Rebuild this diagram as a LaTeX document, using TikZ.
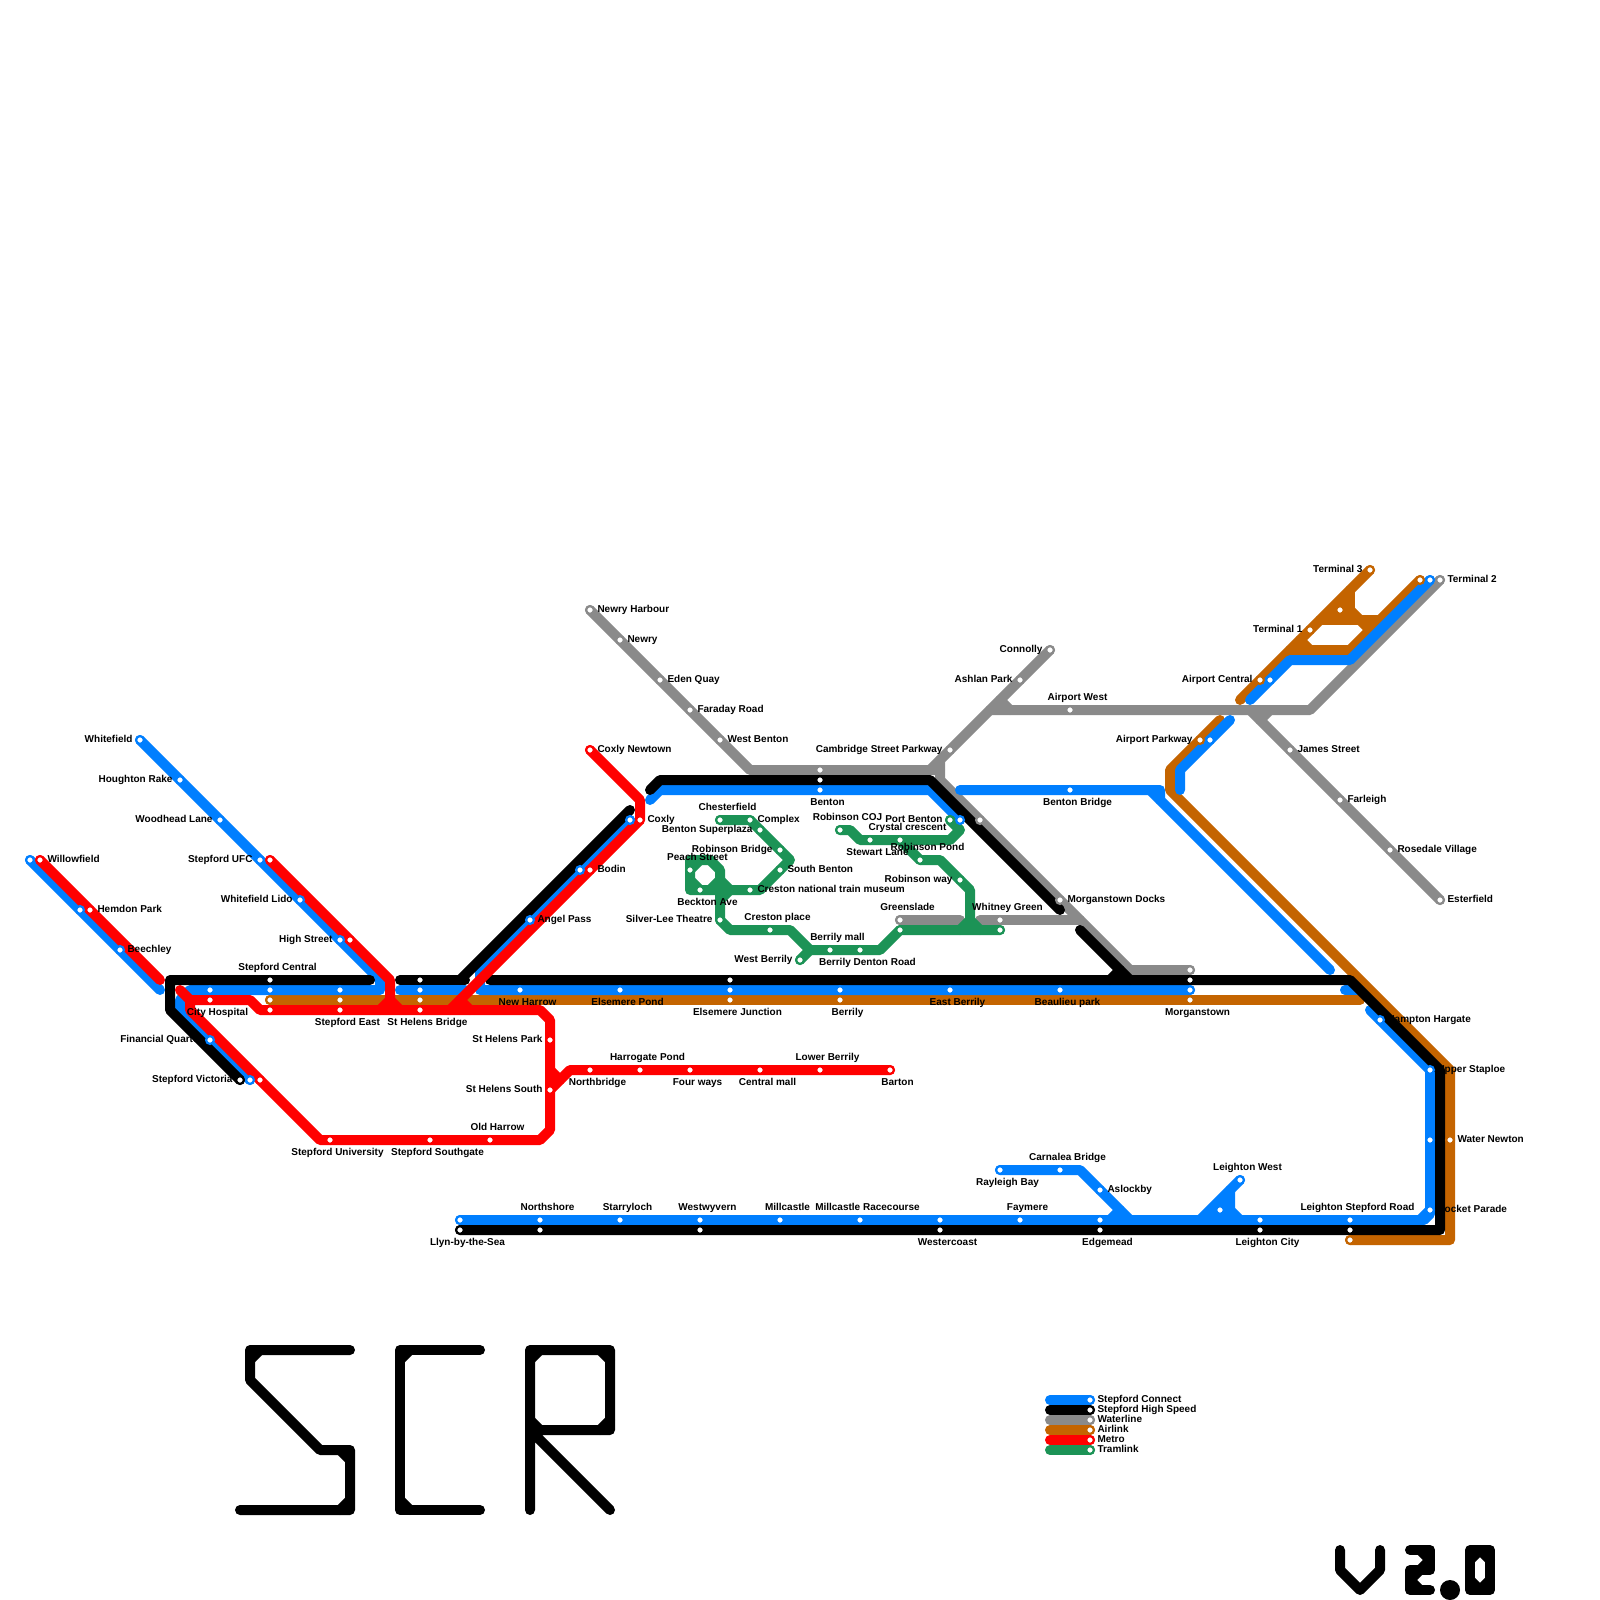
\documentclass[tikz,border=0pt]{standalone}
\usepackage{fontspec}
\setmainfont{Liberation Sans}
\definecolor{mapblue}{HTML}{007FFF}
\definecolor{mapgrey}{HTML}{8A8A8A}
\definecolor{mapbrown}{HTML}{C46400}
\definecolor{mapred}{HTML}{FF0000}
\definecolor{mapgreen}{HTML}{1C9356}
\tikzset{
  mapline/.style={line width=10pt,line cap=round,line join=round},
  lblue/.style={mapline,draw=mapblue},
  lblack/.style={mapline,draw=black},
  lgrey/.style={mapline,draw=mapgrey},
  lbrown/.style={mapline,draw=mapbrown},
  lred/.style={mapline,draw=mapred},
  lgreen/.style={mapline,draw=mapgreen},
  stn/.style={circle,fill=white,line width=2.2pt,inner sep=0pt,minimum size=7.8pt},
  lbl/.style={inner sep=0pt,outer sep=0pt,text=black,font=\bfseries\fontsize{10}{12}\selectfont},
}
\newcommand\labW[2]{\node[lbl,anchor=base east,xshift=-7.5pt,yshift=-2.5pt] (l-#1) at (#1) {#2};}
\newcommand\labE[2]{\node[lbl,anchor=base west,xshift=7.5pt,yshift=-2.5pt] (l-#1) at (#1) {#2};}
\newcommand\labT[2]{\node[lbl,anchor=base,xshift=7.5pt,yshift=10pt] (l-#1) at (#1) {#2};}
\newcommand\labB[2]{\node[lbl,anchor=base,xshift=7.5pt,yshift=-15pt] (l-#1) at (#1) {#2};}
\begin{document}
\begin{tikzpicture}[x=1pt,y=-1pt]
\useasboundingbox (0,0) rectangle (1600,1600);
\fill[white] (0,0) rectangle (1600,1600);
% ---- station positions
\foreach \n/\px/\py in {
 bWhitefield/140/740,bHoughton/180/780,bWoodhead/220/820,bUFC/260/860,bLido/300/900,bHigh/340/940,
 bWillow/30/860,bHemdon/80/910,bBeechley/120/950,bCity/210/990,bCentral/270/990,bEast/340/990,bBridge/420/990,
 bFinancial/210/1040,bVictoria/250/1080,bNewHarrow/520/990,bElsPond/620/990,bElsJ/730/990,bBerrily/840/990,
 bEastB/950/990,bBeaulieu/1060/990,bMorgan/1190/990,bCoxly/630/820,bBodin/580/870,bAngel/530/920,
 bBenton/820/790,bPort/960/820,bBentonBr/1070/790,bAirPk/1210/740,bAirC/1270/680,bT2/1430/580,
 bHampton/1380/1020,bUpper/1430/1070,bWater/1430/1140,bRocket/1430/1210,bLSR/1350/1220,bLCity/1260/1220,
 bLW/1240/1180,bLmid/1220/1210,bAslock/1100/1190,bCarn/1060/1170,bRay/1000/1170,bEdge/1100/1220,bFay/1020/1220,
 bWest/940/1220,bMR/860/1220,bMill/780/1220,bWy/700/1220,bStarry/620/1220,bNorth/540/1220,bLlyn/460/1220,
 kCentral/270/980,kBridge/420/980,kVictoria/240/1080,kBenton/820/780,kElsJ/730/980,kMorgan/1190/980,
 kLSR/1350/1230,kLCity/1260/1230,kEdge/1100/1230,kWest/940/1230,kWy/700/1230,kNorth/540/1230,kLlyn/460/1230,
 gNewryH/590/610,gNewry/620/640,gEden/660/680,gFar/690/710,gWB/720/740,gBenton/820/770,gCamb/950/750,gAsh/1020/680,
 gConn/1050/650,gAW/1070/710,gT2/1440/580,gJames/1290/750,gFarl/1340/800,gRose/1390/850,gEst/1440/900,gMid/980/820,
 gMorganD/1060/900,gMorgan/1190/970,gGreen/900/920,gWhit/1000/920,
 oCentral/270/1000,oEast/340/1000,oBridge/420/1000,oElsJ/730/1000,oBerrily/840/1000,oMorgan/1190/1000,
 oAirPk/1200/740,oAirC/1260/680,oT1/1310/630,oMid/1340/610,oT3/1370/570,oT2/1420/580,oWater/1450/1140,oLSR/1350/1240,
 rWillow/40/860,rHemdon/90/910,rUFC/270/860,rHigh/350/940,rCity/210/1000,rCentral/270/1010,rEast/340/1010,rBridge/420/1010,
 rVict/260/1080,rUni/330/1140,rSouth/430/1140,rOld/490/1140,rPark/550/1040,rHSouth/550/1090,rNorthb/590/1070,rHarro/640/1070,
 rFour/690/1070,rCentralM/760/1070,rLower/820/1070,rBarton/890/1070,rCoxNew/590/750,rCoxly/640/820,rBodin/590/870,
 nChest/720/820,nComplex/750/820,nSuper/760/830,nRBr/780/850,nSB/780/870,nCreston/750/890,nPeach/690/870,nBeck/700/890,
 nSilver/720/920,nCplace/770/930,nMall/830/950,nDenton/860/950,nWestB/800/960,nGreen/900/930,nWhit/1000/930,nRway/960/880,
 nRPond/920/860,nCryst/900/840,nStew/870/840,nCOJ/840/830,nPort/950/820,
 legA/1090/1400,legB/1090/1410,legC/1090/1420,legD/1090/1430,legE/1090/1440,legF/1090/1450%
}{\coordinate (\n) at (\px,\py);}
% ---- bends
\foreach \n/\px/\py in {
 g0/930/770,g1/750/770,g2/940/770,g3/940/760,g4/940/780,g5/1130/970,g6/960/920,g7/980/920,g8/1080/920,g9/990/710,g10/1310/710,
 g11/1000/700,g12/1010/710,g13/1250/710,g14/1260/720,g15/1270/710,
 o1/1360/1000,o2/1220/720,o3/1170/770,o4/1170/790,o5/1450/1070,o6/1450/1240,o7/1240/700,o8/1350/650,o9/1290/650,
 o10/1320/620,o11/1380/620,o12/1350/590,o13/1350/620,o14/1350/610,o15/1360/620,o16/1300/640,o17/1310/650,o18/1370/630,
 k1/370/980,k2/170/980,k3/170/1010,k4/400/980,k5/465/980,k6/630/810,k7/460/980,k8/490/980,k9/1350/980,k10/1440/1070,
 k11/1440/1230,k12/650/790,k13/660/780,k14/930/780,k15/1060/910,k16/1080/930,k17/1130/980,k18/1120/970,k19/1110/980,
 b1/380/980,b2/380/990,b3/190/990,b4/180/1000,b5/180/1010,b6/160/990,b7/400/990,b8/465/990,b9/480/970,b10/480/990,
 b11/650/800,b12/660/790,b13/930/790,b14/960/790,b15/1160/790,b16/1160/800,b17/1330/970,b18/1150/790,b19/1230/720,
 b20/1180/770,b21/1180/790,b22/1250/700,b23/1290/660,b24/1350/660,b25/1345/990,b26/1360/990,b27/1370/1010,b28/1430/1214,
 b29/1424/1220,b30/1420/1220,b31/1080/1170,b32/1130/1220,b33/1120/1210,b34/1110/1220,b35/1200/1220,b36/1230/1190,
 b37/1230/1210,b38/1240/1220,b39/1230/1220,
 r1/160/980,r2/390/980,r3/390/1000,r4/380/1010,r5/400/1010,r6/180/990,r7/190/1000,r8/250/1000,r9/260/1010,r10/540/1010,
 r11/550/1020,r12/550/1130,r13/540/1140,r14/320/1140,r15/190/1010,r16/640/800,r17/450/1010,r18/460/1000,r19/470/1010,
 r20/570/1070,r21/550/1070,r22/560/1080,
 n1/710/860,n2/720/870,n4/730/930,n5/790/930,n6/810/950,n7/880/950,n9/690/860,n10/690/890,n11/760/890,n12/790/860,
 n14/700/860,n15/690/870,n16/690/880,n17/700/890,n18/710/890,n19/720/880,n20/730/890,n21/720/900,n22/850/830,n23/860/840,n24/950/840,
 n25/960/830,n26/940/860,n27/970/890,n28/970/920,n29/960/930,n30/980/930,
 la/1050/1400,lb/1050/1410,lc/1050/1420,ld/1050/1430,le/1050/1440,lf/1050/1450%
}{\coordinate (\n) at (\px,\py);}
% ---- Waterline
\draw[lgrey] (gNewryH)--(g1)--(g2);
\draw[lgrey] (gConn)--(g3)--(g4)--(g5)--(gMorgan);
\draw[lgrey] (g3)--(g0);
\draw[lgrey] (gGreen)--(g6);
\draw[lgrey] (g7)--(g8);
\draw[lgrey] (g9)--(g10)--(gT2);
\draw[lgrey] (g11)--(g12);
\draw[lgrey] (g13)--(gEst);
\draw[lgrey] (g14)--(g15);
% ---- Airlink
\draw[lbrown] (oCentral)--(o1);
\draw[lbrown] (o2)--(o3)--(o4)--(o5)--(o6)--(oLSR);
\fill[mapbrown] (o10)--(o12)--(o13)--cycle;
\draw[lbrown] (o7)--(oT3);
\draw[lbrown] (oT2)--(o8)--(o9);
\draw[lbrown] (o10)--(o11);
\draw[lbrown] (o12)--(o13);
\draw[lbrown] (o14)--(o15)--(o18);
\draw[lbrown] (o16)--(o17);
% ---- Stepford Connect
\draw[lblue] (bWhitefield)--(b1)--(b2)--(b3)--(b4)--(b5)--(bVictoria);
\draw[lblue] (bWillow)--(b6);
\draw[lblue] (b7)--(b8);
\draw[lblue] (bCoxly)--(b9)--(b10)--(bMorgan);
\draw[lblue] (b11)--(b12)--(b13)--(bPort);
\draw[lblue] (b14)--(b15)--(b16)--(b17);
\draw[lblue] (b18)--(b16);
\draw[lblue] (b19)--(b20)--(b21);
\draw[lblue] (b22)--(b23)--(b24)--(bT2);
\draw[lblue] (b25)--(b26);
\draw[lblue] (b27)--(bUpper)--(b28)--(b29)--(bLlyn);
\draw[lblue] (bRocket)--(b30);
\draw[lblue] (bRay)--(b31)--(b32);
\draw[lblue] (b33)--(b34);
\fill[mapblue] (b36)--(b35)--(b39)--cycle;
\draw[lblue] (bLW)--(b35);
\draw[lblue] (b36)--(b37)--(b38);
% ---- Stepford High Speed
\draw[lblack] (k1)--(k2)--(k3)--(kVictoria);
\draw[lblack] (k4)--(k5);
\draw[lblack] (k6)--(k7);
\draw[lblack] (k8)--(k9)--(k10)--(k11)--(kLlyn);
\draw[lblack] (k12)--(k13)--(k14)--(k15);
\draw[lblack] (k16)--(k17);
\draw[lblack] (k18)--(k19);
% ---- Metro
\draw[lred] (rWillow)--(r1);
\draw[lred] (rUFC)--(r2)--(r3)--(r4);
\draw[lred] (r3)--(r5);
\draw[lred] (r6)--(r7)--(r8)--(r9)--(r10)--(r11)--(r12)--(r13)--(r14)--(r15)--(r7);
\draw[lred] (rCoxNew)--(r16)--(rCoxly)--(r17);
\draw[lred] (r18)--(r19);
\draw[lred] (rHSouth)--(r20)--(rBarton);
\draw[lred] (r21)--(r22);
% ---- Tramlink
\draw[lgreen] (n1)--(n2)--(nSilver)--(n4)--(n5)--(n6)--(n7)--(nGreen)--(nWhit);
\draw[lgreen] (n1)--(n9)--(n10)--(n11)--(n12)--(nComplex)--(nChest);
\draw[lgreen] (n14)--(n15);
\draw[lgreen] (n16)--(n17);
\draw[lgreen] (n18)--(n19)--(n20);
\draw[lgreen] (n21)--(n20);
\draw[lgreen] (nWestB)--(n6);
\draw[lgreen] (nCOJ)--(n22)--(n23)--(n24)--(n25)--(nPort);
\draw[lgreen] (nCryst)--(nRPond)--(n26)--(n27)--(n28);
\draw[lgreen] (n29)--(n28)--(n30);
% ---- Legend lines
\draw[lblue] (la)--(legA);
\draw[lblack] (lb)--(legB);
\draw[lgrey] (lc)--(legC);
\draw[lbrown] (ld)--(legD);
\draw[lred] (le)--(legE);
\draw[lgreen] (lf)--(legF);
% ---- Station dots, each ringed in the colour of its line
\foreach \n in {gNewryH,gNewry,gEden,gFar,gWB,gBenton,gCamb,gAsh,gConn,gAW,gT2,gJames,gFarl,gRose,gEst,gMid,gMorganD,gMorgan,gGreen,gWhit,legC}{\node[stn,draw=mapgrey] (s-\n) at (\n) {};}
\foreach \n in {oCentral,oEast,oBridge,oElsJ,oBerrily,oMorgan,oAirPk,oAirC,oT1,oMid,oT3,oT2,oWater,oLSR,legD}{\node[stn,draw=mapbrown] (s-\n) at (\n) {};}
\foreach \n in {kCentral,kBridge,kVictoria,kBenton,kElsJ,kMorgan,kLSR,kLCity,kEdge,kWest,kWy,kNorth,kLlyn,legB}{\node[stn,draw=black] (s-\n) at (\n) {};}
\foreach \n in {rWillow,rHemdon,rUFC,rHigh,rCity,rCentral,rEast,rBridge,rVict,rUni,rSouth,rOld,rPark,rHSouth,rNorthb,rHarro,rFour,rCentralM,rLower,rBarton,rCoxNew,rCoxly,rBodin,legE}{\node[stn,draw=mapred] (s-\n) at (\n) {};}
\foreach \n in {bWhitefield,bHoughton,bWoodhead,bUFC,bLido,bHigh,bWillow,bHemdon,bBeechley,bCity,bCentral,bEast,bBridge,
 bFinancial,bVictoria,bNewHarrow,bElsPond,bElsJ,bBerrily,bEastB,bBeaulieu,bMorgan,bCoxly,bBodin,bAngel,
 bBenton,bPort,bBentonBr,bAirPk,bAirC,bT2,bHampton,bUpper,bWater,bRocket,bLSR,bLCity,bLW,bLmid,bAslock,bCarn,bRay,
 bEdge,bFay,bWest,bMR,bMill,bWy,bStarry,bNorth,bLlyn,legA}{\node[stn,draw=mapblue] (s-\n) at (\n) {};}
\foreach \n in {nChest,nComplex,nSuper,nRBr,nSB,nCreston,nPeach,nBeck,nSilver,nCplace,nMall,nDenton,nWestB,nGreen,nWhit,nRway,nRPond,
 nCryst,nStew,nCOJ,nPort,legF}{\node[stn,draw=mapgreen] (s-\n) at (\n) {};}
% ---- Labels, left of station
\labW{bWhitefield}{Whitefield}
\labW{bHoughton}{Houghton Rake}
\labW{bWoodhead}{Woodhead Lane}
\labW{bUFC}{Stepford UFC}
\labW{bLido}{Whitefield Lido}
\labW{bHigh}{High Street}
\labW{bFinancial}{Financial Quarter}
\labW{kVictoria}{Stepford Victoria}
\labW{rPark}{St Helens Park}
\labW{rHSouth}{St Helens South}
\labW{nSilver}{Silver-Lee Theatre}
\labW{nWestB}{West Berrily}
\labW{nSuper}{Benton Superplaza}
\labW{nRBr}{Robinson Bridge}
\labW{nRway}{Robinson way}
\labW{nPort}{Port Benton}
\labW{gCamb}{Cambridge Street Parkway}
\labW{gAsh}{Ashlan Park}
\labW{gConn}{Connolly}
\labW{oAirPk}{Airport Parkway}
\labW{oAirC}{Airport Central}
\labW{oT1}{Terminal 1}
\labW{oT3}{Terminal 3}
% ---- Labels, right of station
\labE{rWillow}{Willowfield}
\labE{rHemdon}{Hemdon Park}
\labE{bBeechley}{Beechley}
\labE{rCoxNew}{Coxly Newtown}
\labE{rCoxly}{Coxly}
\labE{rBodin}{Bodin}
\labE{bAngel}{Angel Pass}
\labE{gNewryH}{Newry Harbour}
\labE{gNewry}{Newry}
\labE{gEden}{Eden Quay}
\labE{gFar}{Faraday Road}
\labE{gWB}{West Benton}
\labE{nComplex}{Complex}
\labE{nSB}{South Benton}
\labE{nCreston}{Creston national train museum}
\labE{gMorganD}{Morganstown Docks}
\labE{gJames}{James Street}
\labE{gFarl}{Farleigh}
\labE{gRose}{Rosedale Village}
\labE{gEst}{Esterfield}
\labE{gT2}{Terminal 2}
\labE{bHampton}{Hampton Hargate}
\labE{bUpper}{Upper Staploe}
\labE{oWater}{Water Newton}
\labE{bRocket}{Rocket Parade}
\labE{bAslock}{Aslockby}
% ---- Labels above station
\labT{kCentral}{Stepford Central}
\labT{nChest}{Chesterfield}
\labT{nPeach}{Peach Street}
\labT{nRPond}{Robinson Pond}
\labT{nCOJ}{Robinson COJ}
\labT{nCryst}{Crystal crescent}
\labT{nCplace}{Creston place}
\labT{nMall}{Berrily mall}
\labT{gGreen}{Greenslade}
\labT{gWhit}{Whitney Green}
\labT{gAW}{Airport West}
\labT{bCarn}{Carnalea Bridge}
\labT{bLW}{Leighton West}
\labT{bFay}{Faymere}
\labT{bNorth}{Northshore}
\labT{bStarry}{Starryloch}
\labT{bWy}{Westwyvern}
\labT{bMill}{Millcastle}
\labT{bMR}{Millcastle Racecourse}
\labT{bLSR}{Leighton Stepford Road}
\labT{rHarro}{Harrogate Pond}
\labT{rLower}{Lower Berrily}
\labT{rOld}{Old Harrow}
% ---- Labels below station
\labB{rEast}{Stepford East}
\labB{rBridge}{St Helens Bridge}
\labB{rCity}{City Hospital}
\labB{rUni}{Stepford University}
\labB{rSouth}{Stepford Southgate}
\labB{bNewHarrow}{New Harrow}
\labB{bElsPond}{Elsemere Pond}
\labB{bEastB}{East Berrily}
\labB{bBeaulieu}{Beaulieu park}
\labB{oElsJ}{Elsemere Junction}
\labB{oBerrily}{Berrily}
\labB{oMorgan}{Morganstown}
\labB{rNorthb}{Northbridge}
\labB{rFour}{Four ways}
\labB{rCentralM}{Central mall}
\labB{rBarton}{Barton}
\labB{bBenton}{Benton}
\labB{nStew}{Stewart Lane}
\labB{nBeck}{Beckton Ave}
\labB{nDenton}{Berrily Denton Road}
\labB{bBentonBr}{Benton Bridge}
\labB{bRay}{Rayleigh Bay}
\labB{kLlyn}{Llyn-by-the-Sea}
\labB{kWest}{Westercoast}
\labB{kEdge}{Edgemead}
\labB{kLCity}{Leighton City}
% ---- Legend labels
\labE{legA}{Stepford Connect}
\labE{legB}{Stepford High Speed}
\labE{legC}{Waterline}
\labE{legD}{Airlink}
\labE{legE}{Metro}
\labE{legF}{Tramlink}
% ---- Logo SCR
\draw[lblack] (350,1350)--(250,1350)--(250,1380)--(320,1450)--(350,1450)--(350,1510)--(240,1510);
\draw[lblack] (260,1350)--(250,1360);
\draw[lblack] (340,1450)--(350,1460);
\draw[lblack] (350,1500)--(340,1510);
\draw[lblack] (480,1350)--(400,1350)--(400,1510)--(480,1510);
\draw[lblack] (410,1350)--(400,1360);
\draw[lblack] (400,1500)--(410,1510);
\draw[lblack] (530,1510)--(530,1350)--(610,1350)--(610,1430)--(530,1430)--(610,1510);
\draw[lblack] (540,1350)--(530,1360);
\draw[lblack] (600,1350)--(610,1360);
\draw[lblack] (610,1420)--(600,1430);
\draw[lblack] (530,1420)--(540,1430)--(530,1440);
% ---- Version mark
\draw[lblack] (1340,1550)--(1340,1570)--(1360,1590)--(1380,1570)--(1380,1550);
\draw[lblack] (1410,1550)--(1430,1550)--(1430,1570)--(1410,1570)--(1410,1590)--(1430,1590);
\draw[lblack] (1420,1550)--(1430,1560)--(1420,1570)--(1410,1580)--(1420,1590);
\fill[black] (1450,1590) circle (10);
\draw[lblack] (1470,1550)--(1490,1550)--(1490,1590)--(1470,1590)--cycle;
\draw[lblack] (1470,1560)--(1480,1550)--(1490,1560);
\draw[lblack] (1470,1580)--(1480,1590)--(1490,1580);
\end{tikzpicture}
\end{document}
